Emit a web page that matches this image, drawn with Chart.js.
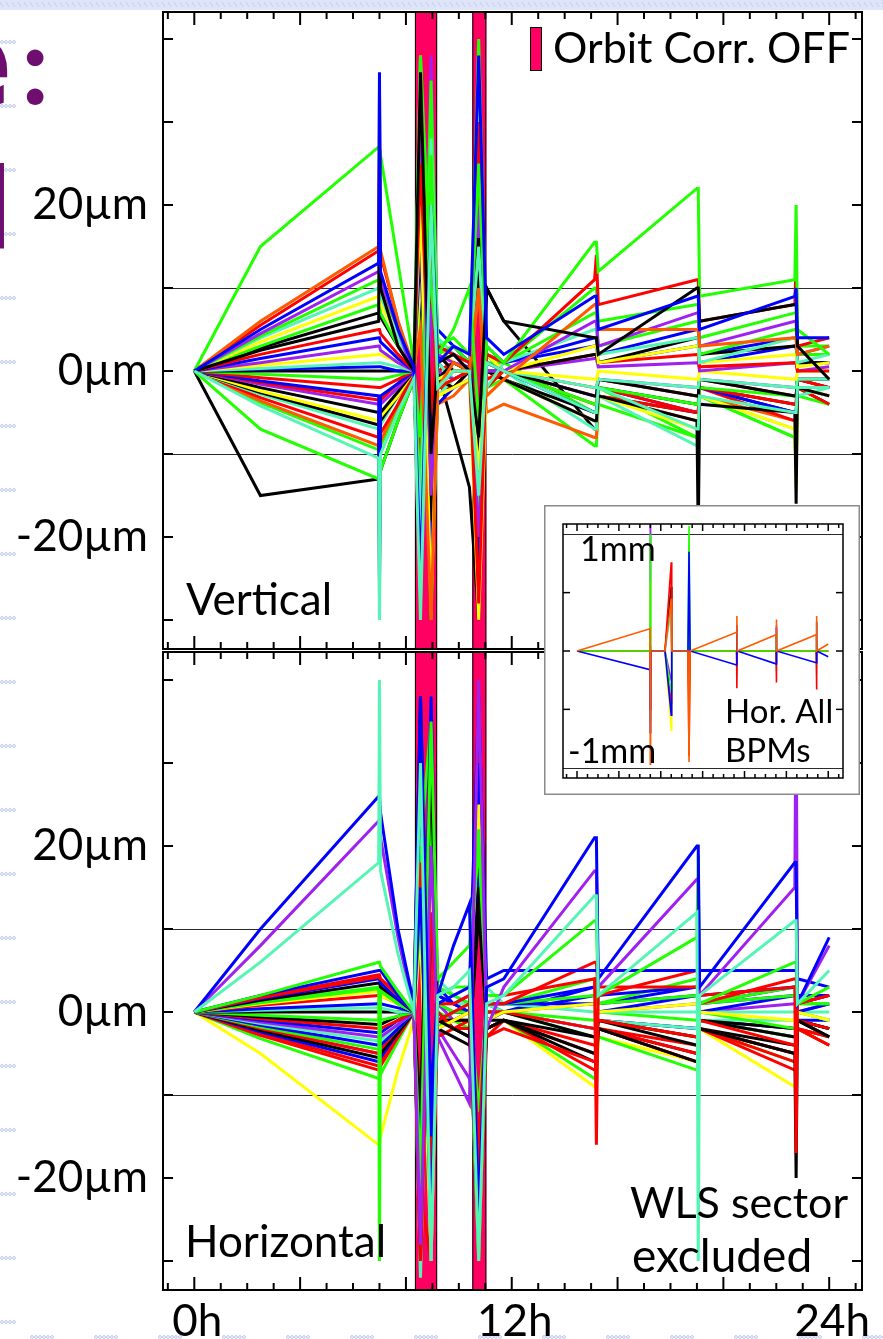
<!DOCTYPE html>
<html>
<head>
<meta charset="utf-8">
<title>Orbit stability, 24h</title>
<script src="https://cdn.jsdelivr.net/npm/chart.js@4.4.1/dist/chart.umd.min.js"></script>
<style>
  html, body { margin: 0; padding: 0; background: #fff; }
  body { width: 883px; height: 1339px; position: relative; overflow: hidden; }
  canvas { position: absolute; }
  #slide { left: 0; top: 0; width: 883px; height: 1339px; }
  #vertChart { left: 0; top: 0; width: 883px; height: 662px; }
  #horChart { left: 0; top: 640px; width: 883px; height: 699px; }
  #insetChart { left: 544px; top: 505px; width: 316px; height: 290px; }
</style>
</head>
<body>
<canvas id="slide" width="883" height="1339"></canvas>
<canvas id="vertChart" width="883" height="662"></canvas>
<canvas id="horChart" width="883" height="699"></canvas>
<canvas id="insetChart" width="316" height="290"></canvas>
<script>
// ---- data (hours, micrometres) ----
const hourKeys = [0, 2.5, 6.97, 7.0, 7.04, 7.7, 8.3, 8.55, 8.95, 9.2, 9.8, 10.4, 10.75, 11.05, 11.7,
                  15.13, 15.2, 15.27, 19.0, 19.05, 19.1, 22.7, 22.75, 22.8, 24];
const hourTicks = [-1, 0, 1, 2, 3, 4, 5, 6, 7, 8, 9, 10, 11, 12, 13, 14, 15, 16, 17, 18, 19, 20, 21, 22, 23, 24, 25];
const hourLabelled = [0, 12, 24];
const umTicks = [-30, -20, -10, 0, 10, 20, 30, 40];
const umLabelled = [-20, 0, 20];
const umRefLines = [-10, 10];

// orbit correction switched off
const offStart = [8.34, 10.51];
const offEnd = [9.18, 11.04];

// Vertical BPM traces
const vGreenTop = [0, 15,   27, 27, 26, 13, 1,      38, 10, 2, 5, 10,      -6, 3, 1,    15.5, 15.5, 12,  22, 22, 9,    11, 20, 5,     2];
const vOrange1  = [0, 6,    15, 15, 14.5, 6, 0.5,   5, -30, -2, 1, 0,      10, -3, -1,  8, 8, 5,         5, 5, 3,      4, 4, 2,       3];
const vRed1     = [0, 5.5,  14.5, 25, 14, 6, 0,     25, -5, 3, 2, 1,       -28, 2, 1,   11, 14, 8,       11, 11, 6,    8, 13.5, 3,    4];
const vBlue1    = [0, 5,    13, 36, 12, 5, 0.5,     -25, 20, 1, 3, 2,      38, 4, 2,    9, 9, 5,         9, 9, 5,      9, 10, 4,      4];
const vPurple1  = [0, 4.5,  12, 12, 11, 5, -0.5,    30, -15, 2, 1, 0.5,    -20, 1, 0,   6, 6, 3,         7, 7, 3,      6, 6, 2,       3];
const vGreen4   = [0, 4.2,  11, 11, 10, 5, 0,       -8, 26, 2, 3, 1,       -18, 2, 1,   10, 10, 6,       8, 8, 4,      7, 7, 3,       3];
const vAqua1    = [0, 4,    10, 10, 9, 4, 0,        -20, 28, 4, 2, 1,      15, -2, 1,   5, 5, 2,         4, 4, 1,      4, 4, 1,       2];
const vYellow1  = [0, 3.5,  9, 9, 8, 4, 0,          20, -28, -1, 0, 0,     -12, 2, 0,   3, 3, 1,         3, 3, 1,      2, 2, 0.5,     1];
const vGreen2   = [0, 3,    8, 8, 7, 3, 1,          -15, 35, 3, 4, 2,      25, 1, 1,    7, 7, 3,         6, 6, 2,      5, 5, 2,       2];
const vBlack4   = [0, 2.8,  7, 7, 6.5, 3, 0,        24, -18, -1, 1, 0,     16, 1, 0,    2, 2, 1,         4, 4, 2,      3, 3, 1,       1];
const vBlack1   = [0, 2.5,  6, 34, 10, 3, 0,        36, -10, 1, 2, 0,      -8, 10, 6,   4, 4, 2,         10, 10, 6,    8, 8, 3,       -1];
const vRed2     = [0, 2,    5, 5, 4.5, 2, 0,        -10, 12, -2, -1, 0,    30, -1, 0,   2, 2, 1,         2, 2, 0.5,    1, 1, 0,       0];
const vBlue2    = [0, 1.5,  4, 4, 3.5, 1.5, 0,      15, -22, 5, 3, 1,      -25, 3, 1,   3, 3, 1,         3, 3, 1,      3, 3, 1,       1];
const vPurple2  = [0, 1,    3, 3, 2.5, 1, 0,        -28, 8, 0, -1, 0,      20, 0, 0,    1.5, 1.5, 0.5,   1, 1, 0,      1, 1, 0,       0.5];
const vYellow2  = [0, 0.7,  2, 2, 2, 1, 0,          10, 22, -3, -2, -1,    -30, -1, 0,  -1, -1, 0,       -1, -1, 0,    -1, -1, 0,     0];
const vAqua2    = [0, 0.3,  1, 1, 1, 0.5, 0,        38, -25, 1, -1, 0,     35, 1, 0,    -2, -2, -1,      -2, -2, -1,   -2, -2, -1,    -1];
const vBlue4    = [0, 0.2,  0.5, 0.5, 0.5, 0, 0,    -24, 12, 3, 2, 1,      -12, 2, 1,   4, 4, 2,         5, 5, 2,      4, 4, 2,       2];
const vBlack2   = [0, 0,    0, 0, 0, 0, 0,          -12, 30, 2, 0, 0,      12, 0, 0,    -3, -3, -1,      -3, -3, -1,   -3, -3, -1,    -1];
const vGreen3   = [0, -0.4, -1, -1, -1, -0.5, 0,    18, -30, -2, -1, 0,    -15, 0, 0,   -4, -4, -2,      -4, -4, -2,   -3, -3, -1,    -1];
const vRed3     = [0, -0.8, -2, -2, -2, -1, 0,      -30, 16, 0, 1, 0,      25, -2, 0,   -4, -4, -2,      -5, -5, -2,   -4, -4, -1,    -2];
const vBlue3    = [0, -1.2, -3, -27, -3, -1.5, 0,   25, -8, -4, -2, -1,    -20, 2, 0,   -5, -5, -2,      -5, -5, -2,   -5, -5, -2,    -2];
const vRed5     = [0, -1.4, -3.5, -3.5, -3.5, -1.5, 0, 16, -24, -2, 0, 0,  14, -1, 0,   -2, -2, -1,      -3, -3, -1,   -3, -3, -1,    -2];
const vPurple3  = [0, -1.6, -4, -4, -4, -2, 0,      -22, 38, 2, 0, 0,      18, -1, 0,   -3, -3, -1,      -2, -2, -1,   -2, -2, -1,    -1];
const vBlack3   = [0, -2,   -5, -25, -5, -2.5, 0,   12, -30, -1, -2, 0,    -10, 0, -1,  -6, -6, -3,      -6, -20, -4,  -5, -16, -2,   -3];
const vYellow3  = [0, -2.4, -6, -6, -5.5, -3, 0,    -18, 28, 3, 1, 0,      22, -3, -1,  -6, -6, -3,      -7, -7, -3,   -7, -14, -2,   -3];
const vBlack5   = [0, -2.6, -6.5, -6.5, -6, -3, 0,  -16, 24, 1, -1, 0,     -22, 0, -1,  -5, -5, -2,      -4, -4, -2,   -4, -4, -1,    -2];
const vAqua3    = [0, -2.8, -7, -7, -6.5, -3, 0,    30, -18, -3, -1, 0,    -28, 2, 0,   -7, -7, -3,      -9, -9, -3,   -7, -7, -3,    -2];
const vRed4     = [0, -3.2, -8, -8, -7.5, -4, -0.5, -26, 10, -2, -2, 0,    30, 0, -1,   -6, -6, -3,      -5, -5, -2,   -6, -6, -2,    -4];
const vOrange2  = [0, -3.6, -9, -9, -8.5, -4, 0,    14, -25, -4, -3, -1,   10, -5, -4,  -8, -8, -3,      -6, -6, -3,   -6, -6, -2,    -3];
const vGreen5   = [0, -3.8, -9.5, -9.5, -9, -4.5, -0.5, 8, -28, -3, -2, 0, 26, -2, -1,  -9, -9, -4,      -8, -8, -3,   -8, -8, -3,    -4];
const vAqua4    = [0, -4.2, -10.5, -30, -10, -5, -1, -30, 20, -2, 0, 0,    -15, 1, 0,   -5, -5, -2,      -7, -7, -3,   -5, -5, -2,    -2];
const vGreenLow = [0, -7,   -13, -13, -12, -6, -1,  22, -20, 0, -1, 0,     40, 2, 1,    -5, -5, -2,      -8, -8, -3,   -8, -12, -2,   -3];
const vBlackLow = [0, -15,  -13, -13, -12, -6, -1,  -20, 15, 0, -7, -14,   -30, 10, 6,  -7, -7, -3,      -5, -5, -2,   -5, -5, -2,    -4];

// Horizontal BPM traces
const hBlueTop   = [0, 10,   26, 26, 24, 10, 1,      38, -15, 2, 8, 13,     -25, 3, 4,   21, 21, 4,     20, 20, 3,    18, 18, 1,    9];
const hPurpleTop = [0, 8,    23, 23, 21, 9, 0,       -28, 20, -3, -7, -11,  40, -2, 3,   17, 17, 3,     16, 16, 2,    15, 40, 1,    8];
const hAquaTop   = [0, 6,    18, 40, 17, 7, 0,       30, -30, 2, 3, 5,      -30, 1, 2,   14, 14, 2,     12, -30, 2,   11, 11, 1,    5];
const hGreen1    = [0, 2,    6, 6, 5.5, 2.5, 0,      -20, 35, 4, 6, 8,      20, 2, 2,    11, 11, 2,     9, 19, 1,     6, 6, 1,      3];
const hBlue2     = [0, 2,    5, 5, 5, 2, 0,          15, -25, 1, 2, 3,      38, 4, 5,    5, 5, 5,       5, 5, 5,      5, 5, 4,      3];
const hRed1      = [0, 1.8,  4.5, 4.5, 4, 2, 0,      -30, 12, -1, 0, 1,     -20, 2, 2,   4, -16, 3,     3, 3, 2,      3, -17, 1,    2];
const hRed6      = [0, 1.7,  4.2, 4.2, 4, 2, 0,      18, -22, 1, 1, 2,      -16, 1, 1,   6, 6, 2,       5, 5, 1,      4, 4, 1,      2];
const hBlue3     = [0, 1.6,  4, 4, 3.5, 1.5, 0,      28, -10, 2, 1, 2,      -28, 1, 1,   3, 3, 2,       3, 3, 2,      3, 3, 2,      2];
const hBlack1    = [0, 1.4,  3.5, 3.5, 3, 1.5, 0,    -12, 30, -1, -2, -3,   15, -2, -1,  -5, -5, -2,    -6, -6, -2,   -5, -20, -1,  -3];
const hGreen2    = [0, 1.2,  3, -30, 3, 1, 0,        20, -28, 3, 2, 1,      -12, 1, 1,   2, 2, 1,       2, 2, 1,      2, 2, 1,      1];
const hGreen6    = [0, 1.1,  2.8, 2.8, 2.5, 1, 0,    -26, 24, 2, 3, 3,      22, 1, 1,    4, 4, 1,       4, 4, 1,      3, 3, 1,      1];
const hYellow1   = [0, 1,    2.5, 2.5, 2, 1, 0,      -25, 15, -2, -1, 0,    25, -1, 0,   1, 1, 0,       1, 1, 0,      -1, -1, 0,    -1];
const hRed2      = [0, 0.8,  2, 2, 2, 1, 0,          35, -20, 0, -2, -2,    -25, 0, 0,   -2, -2, -1,    -3, -3, -1,   -4, -4, -1,   -2];
const hBlue4     = [0, 0.4,  1, 1, 1, 0.5, 0,        -18, 38, 2, 1, 0,      30, 1, 1,    1, 1, 0,       2, 2, 0,      2, 2, 0,      1];
const hAqua2     = [0, 0.2,  0.5, 0.5, 0.5, 0, 0,    25, -30, 4, 2, 1,      -20, 3, 1,   0, 0, 0,       0, 0, 0,      0, 0, 0,      0];
const hBlack2    = [0, 0,    0, 0, 0, 0, 0,          -30, 20, -2, -3, -4,   12, -1, -1,  -3, -3, -1,    -4, -4, -1,   -3, -3, -1,   -2];
const hGreen3    = [0, -0.4, -1, -1, -1, -0.5, 0,    12, -18, 1, 0, 0,      -30, 0, 0,   -1, -1, 0,     -1, -1, 0,    -2, -2, 0,    -1];
const hBlack4    = [0, -0.6, -1.5, -1.5, -1.5, -0.5, 0, 26, -12, -1, -1, -1, -24, -1, 0, -3, -3, -1,    -3, -3, -1,   -2, -2, -1,   -2];
const hRed3      = [0, -0.8, -2, -2, -2, -1, 0,      -10, 28, -3, -2, -1,   35, -2, -1,  -4, -4, -2,    -5, -5, -2,   -5, -5, -2,   -3];
const hBlue7     = [0, -1,   -2.5, -2.5, -2.5, -1, 0, -14, 32, 1, 0, 0,     16, 0, 0,    3, 3, 1,       3, 3, 1,      3, 3, 1,      2];
const hPurple2   = [0, -1.2, -3, -3, -3, -1.5, 0,    30, -25, 1, -1, 0,     -18, 0, 0,   1, 1, 0,       1, 1, 0,      1, 1, 0,      1];
const hAqua3     = [0, -1.4, -3.5, -3.5, -3.5, -1.5, 0, -32, 18, 1, 1, 1,   24, 1, 0,    -2, -2, -1,    -2, -2, -1,   -1, -1, 0,    -1];
const hBlue5     = [0, -1.6, -4, -4, -4, -2, 0,      -25, 10, 3, 1, 0,      22, 1, 0,    2, 2, 1,       2, 2, 1,      2, 2, 1,      2];
const hGreen4    = [0, -1.8, -4.5, -4.5, -4, -2, 0,  20, 35, -2, 0, 1,      -22, 1, 0,   -3, -3, -1,    -3, -3, -1,   -3, -3, -1,   -2];
const hRed4      = [0, -2,   -5, -5, -4.5, -2, 0,    -22, -30, -1, -1, -1,  28, -3, -2,  -6, -6, -2,    -6, -6, -2,   -6, -6, -2,   -4];
const hBlack3    = [0, -2.2, -5.5, -5.5, -5, -2.5, 0, 38, -15, 0, -2, -3,   -25, -2, -1, -6, -6, -2,    -5, -5, -2,   -4, -4, -1,   -3];
const hBlue6     = [0, -2.4, -6, -6, -5.5, -2.5, 0,  -12, 25, -1, 0, 0,     18, -1, 0,   -2, -2, -1,    -2, -2, -1,   -2, -2, -1,   -1];
const hRed7      = [0, -2.6, -6.5, -6.5, -6, -3, 0,  20, -26, -1, -2, -2,   -20, -2, -1, -7, -7, -2,    -6, -6, -2,   -7, -7, -2,   -4];
const hRed5      = [0, -2.8, -7, -7, -6.5, -3, 0,    15, -22, -2, -1, 0,    -30, -3, -1, -5, -5, -2,    -4, -4, -2,   -5, -5, -2,   -3];
const hGreen5    = [0, -3.2, -8, -8, -7.5, -3.5, 0,  -28, 28, 0, -1, -2,    20, -2, -1,  -8, -8, -3,    -7, -7, -2,   -6, -6, -2,   -3];
const hPurple3   = [0, -2,   -5, -5, -5, -2, 0,      22, -12, -2, -5, -8,   -15, -1, 0,  -2, -2, -1,    -2, -2, -1,   -3, -3, -1,   -2];
const hYellowLow = [0, -5,   -16, -16, -15, -7, -1,  10, -30, 1, 0, 0,      15, -2, -1,  -9, -9, -3,    -6, -6, -2,   -9, -9, -2,   -4];

// inset: all horizontal BPMs, millimetres
const insetHours = [0, 6.97, 7.0, 7.03, 8.4, 9.0, 9.05, 10.6, 10.7, 10.8,
                    15.24, 15.27, 15.3, 19.01, 19.04, 19.07, 22.85, 22.88, 22.91, 24];
const mmTicks = [-0.5, 0, 0.5];
const mmRefLines = [-1, 1];
const iOrange = [0,  0.19, -0.97, 0,   0, 0.45, 0,    0, -0.95, 0,   0.16, 0.3, 0,     0.14, 0.27, 0,   0.14, 0.3, 0,    0.06];
const iBlue   = [0, -0.16, -0.7, 0,    0, -0.55, 0,   0, 0.85, 0,    -0.12, 0.22, 0,   -0.11, 0.2, 0,   -0.1, 0.25, 0,   -0.05];
const iGreen  = [0,  0, 1.0, 0,        0, -0.35, 0,   0, 1.07, 0,    0, 0.12, 0,       0, 0.15, 0,      0, 0.1, 0,       0];
const iRed    = [0,  0, -0.5, 0,       0, 0.76, 0,    0, -0.9, 0,    0, -0.32, 0,      0, -0.27, 0,     0, -0.33, 0,     0];
const iYellow = [0,  0, 0.6, 0,        0, -0.68, 0,   0, -0.6, 0,    0, 0.2, 0,        0, 0.18, 0,      0, 0.22, 0,      0];
const iAqua   = [0,  0, -0.6, 0,       0, 0.35, 0,    0, 0.4, 0,     0, -0.2, 0,       0, -0.17, 0,     0, -0.2, 0,      0];
const iPurple = [0,  0, 1.1, 0,        0, -0.25, 0,   0, -0.3, 0,    0, 0.06, 0,       0, 0.22, 0,      0, 0.05, 0,      0];
const iBlack  = [0,  0, 0.05, 0,       0, 0.55, 0,    0, -0.45, 0,   0, 0, 0,          0, 0, 0,         0, 0, 0,         0];
const iRed2   = [0,  0, -0.2, 0,       0, -0.45, 0,   0, 0.3, 0,     0, -0.05, 0,      0, -0.1, 0,      0, -0.1, 0,      0];

// ---- styles ----
const C = { black: '#000000', red: '#ff0000', green: '#22ff00', blue: '#0000ff', yellow: '#ffff00',
            purple: '#a020f0', aqua: '#55f5b5', orange: '#ff5a00' };

const vertTraces = [vAqua4, vBlue1, vBlack1, vGreenTop, vOrange1, vRed1, vPurple1, vGreen4, vAqua1, vYellow1,
                    vGreen2, vBlack4, vRed2, vBlue2, vPurple2, vYellow2, vAqua2, vBlue4, vBlack2, vGreen3,
                    vRed3, vBlue3, vRed5, vPurple3, vBlack3, vYellow3, vBlack5, vAqua3, vRed4, vOrange2,
                    vGreen5, vGreenLow, vBlackLow];
const vertColors = [C.aqua, C.blue, C.black, C.green, C.orange, C.red, C.purple, C.green, C.aqua, C.yellow,
                    C.green, C.black, C.red, C.blue, C.purple, C.yellow, C.aqua, C.blue, C.black, C.green,
                    C.red, C.blue, C.red, C.purple, C.black, C.yellow, C.black, C.aqua, C.red, C.orange,
                    C.green, C.green, C.black];

const horTraces = [hAquaTop, hBlueTop, hPurpleTop, hGreen1, hBlue2, hRed1, hRed6, hBlue3, hBlack1, hGreen2,
                   hGreen6, hYellow1, hRed2, hBlue4, hAqua2, hBlack2, hGreen3, hBlack4, hRed3, hBlue7,
                   hPurple2, hAqua3, hBlue5, hGreen4, hRed4, hBlack3, hBlue6, hRed7, hRed5, hGreen5,
                   hPurple3, hYellowLow];
const horColors = [C.aqua, C.blue, C.purple, C.green, C.blue, C.red, C.red, C.blue, C.black, C.green,
                   C.green, C.yellow, C.red, C.blue, C.aqua, C.black, C.green, C.black, C.red, C.blue,
                   C.purple, C.aqua, C.blue, C.green, C.red, C.black, C.blue, C.red, C.red, C.green,
                   C.purple, C.yellow];

const insetTraces = [iOrange, iBlue, iGreen, iRed, iYellow, iAqua, iPurple, iBlack, iRed2];
const insetColors = [C.orange, C.blue, C.green, C.red, C.yellow, C.aqua, C.purple, C.black, C.red];

Chart.defaults.font.family = 'Lato';
Chart.defaults.color = '#000';

// ---- slide background (decoration of the original slide) ----
(function drawSlide() {
    const ctx = document.getElementById('slide').getContext('2d');
    ctx.fillStyle = '#fff';
    ctx.fillRect(0, 0, 883, 1339);
    ctx.fillStyle = '#dfe5f9';
    ctx.fillRect(0, 0, 883, 10);
    ctx.strokeStyle = '#c4cef2';
    ctx.lineWidth = 1;
    for (let x = 0; x < 883; x += 6) {
        ctx.beginPath(); ctx.moveTo(x, 2); ctx.lineTo(x + 3, 7); ctx.stroke();
    }
    ctx.strokeStyle = '#bcc7f0';
    for (let y = 42; y < 1339; y += 64) {
        for (let x = 2; x < 15; x += 4) { ctx.beginPath(); ctx.arc(x, y, 1.4, 0, Math.PI * 2); ctx.stroke(); }
    }
    for (let x = 32; x < 883; x += 64) {
        for (let dx = 0; dx < 22; dx += 4) { ctx.beginPath(); ctx.arc(x + dx, 1337, 1.4, 0, Math.PI * 2); ctx.stroke(); }
    }
    // cropped slide title: place glyph ink by its measured bounds
    ctx.fillStyle = '#6e0e6e';
    const inkRight = (txt, font, right, top) => {
        ctx.font = font;
        const m = ctx.measureText(txt);
        ctx.fillText(txt, right - m.actualBoundingBoxRight, top + m.actualBoundingBoxAscent);
    };
    const inkLeft = (txt, font, left, top) => {
        ctx.font = font;
        const m = ctx.measureText(txt);
        ctx.fillText(txt, left + m.actualBoundingBoxLeft, top + m.actualBoundingBoxAscent);
    };
    inkRight('e', 'bold 132px "DejaVu Sans"', 8, 33);
    inkLeft(':', 'bold 110px Lato', 26, 49);
    inkRight('l', 'bold 112px "DejaVu Sans"', 4, 163);
})();

// ---- plugins ----
const offBands = {
    id: 'offBands',
    beforeDatasetsDraw(chart) {
        const { ctx, chartArea: a, scales: { x } } = chart;
        ctx.save();
        ctx.fillStyle = '#ff0062';
        ctx.strokeStyle = '#000';
        ctx.lineWidth = 1;
        offStart.forEach((h, i) => {
            const x0 = x.getPixelForValue(h);
            const x1 = x.getPixelForValue(offEnd[i]);
            ctx.fillRect(x0, a.top, x1 - x0, a.bottom - a.top);
            ctx.strokeRect(x0 + 0.5, a.top + 0.5, x1 - x0 - 1, a.bottom - a.top - 1);
        });
        ctx.restore();
    }
};

const panelFrame = {
    id: 'panelFrame',
    beforeDatasetsDraw(chart, args, o) {
        const { ctx, chartArea: a, scales: { y } } = chart;
        ctx.save();
        ctx.strokeStyle = o.refColor;
        ctx.lineWidth = 1;
        o.refLines.forEach(v => {
            const py = Math.round(y.getPixelForValue(v)) + 0.5;
            ctx.beginPath(); ctx.moveTo(a.left, py); ctx.lineTo(a.right, py); ctx.stroke();
        });
        ctx.restore();
    },
    afterDatasetsDraw(chart, args, o) {
        const { ctx, chartArea: a, scales: { x, y } } = chart;
        ctx.save();
        ctx.strokeStyle = '#000';
        ctx.lineWidth = o.lineWidth;
        const seg = (x0, y0, x1, y1) => { ctx.beginPath(); ctx.moveTo(x0, y0); ctx.lineTo(x1, y1); ctx.stroke(); };
        o.xTicks.forEach(h => {
            const px = x.getPixelForValue(h);
            const len = h % o.xMajorEvery === 0 ? o.xMajorLen : o.xMinorLen;
            seg(px, a.top, px, a.top + len);
            seg(px, a.bottom, px, a.bottom - len);
        });
        o.yTicks.forEach(v => {
            const py = y.getPixelForValue(v);
            seg(a.left, py, a.left + o.yLen, py);
            seg(a.right, py, a.right - o.yLen, py);
        });
        ctx.strokeRect(a.left, a.top, a.right - a.left, a.bottom - a.top);
        ctx.restore();
    }
};

const notes = {
    id: 'notes',
    beforeDraw(chart, args, o) {
        if (!o.box) return;
        const ctx = chart.ctx;
        ctx.save();
        ctx.fillStyle = '#fff';
        ctx.fillRect(0, 0, chart.width, chart.height);
        ctx.strokeStyle = '#8a8a8a';
        ctx.lineWidth = 1.5;
        ctx.strokeRect(0.75, 0.75, chart.width - 1.5, chart.height - 1.5);
        ctx.restore();
    },
    afterDraw(chart, args, o) {
        const ctx = chart.ctx;
        ctx.save();
        (o.swatches || []).forEach(s => {
            ctx.fillStyle = '#ff0062';
            ctx.fillRect(s.x, s.y, s.w, s.h);
            ctx.strokeStyle = '#000';
            ctx.lineWidth = 1;
            ctx.strokeRect(s.x + 0.5, s.y + 0.5, s.w - 1, s.h - 1);
        });
        ctx.fillStyle = '#000';
        ctx.textBaseline = 'alphabetic';
        ctx.textAlign = 'left';
        o.items.forEach(n => {
            ctx.font = n.size + 'px Lato';
            ctx.fillText(n.text, n.x, n.y);
        });
        ctx.restore();
    }
};

// ---- helpers ----
function lineSets(keys, traces, colors, width) {
    return traces.map((vals, i) => ({
        data: vals.map((v, k) => ({ x: keys[k], y: v })),
        borderColor: colors[i],
        borderWidth: width,
        pointRadius: 0,
        tension: 0,
        fill: false
    }));
}

function umAxis(min, max) {
    return {
        type: 'linear', min, max,
        afterBuildTicks: s => { s.ticks = umTicks.map(v => ({ value: v })); },
        afterFit: s => { s.width = 163; s.paddingTop = 0; s.paddingBottom = 0; },
        grid: { display: false, drawTicks: false },
        border: { display: false },
        ticks: {
            padding: 15, color: '#000', font: { family: 'Lato', size: 44 },
            callback: v => umLabelled.includes(v) ? v + '\u00b5m' : ''
        }
    };
}

function frameOptions() {
    return {
        refLines: umRefLines, refColor: '#2a2a2a', lineWidth: 2,
        xTicks: hourTicks, xMajorEvery: 4, xMajorLen: 13, xMinorLen: 7,
        yTicks: umTicks, yLen: 10
    };
}

const common = { responsive: false, animation: false, events: [], devicePixelRatio: 1 };

// ---- vertical panel ----
new Chart(document.getElementById('vertChart'), {
    type: 'line',
    data: { datasets: lineSets(hourKeys, vertTraces, vertColors, 3) },
    options: {
        ...common,
        layout: { padding: { left: 0, right: 21, top: 12, bottom: 13 }, autoPadding: false },
        scales: {
            x: { type: 'linear', min: -1.183, max: 25.24, display: false },
            y: umAxis(-33.49, 43.25)
        },
        plugins: {
            legend: { display: false }, tooltip: { enabled: false },
            panelFrame: frameOptions(),
            notes: {
                swatches: [{ x: 530, y: 27, w: 12, h: 44 }],
                items: [
                    { text: 'Orbit Corr. OFF', x: 553, y: 63, size: 43 },
                    { text: 'Vertical', x: 186, y: 615, size: 44 }
                ]
            }
        }
    },
    plugins: [offBands, panelFrame, notes]
});

// ---- horizontal panel ----
new Chart(document.getElementById('horChart'), {
    type: 'line',
    data: { datasets: lineSets(hourKeys, horTraces, horColors, 3) },
    options: {
        ...common,
        layout: { padding: { left: 0, right: 21, top: 12, bottom: 0 }, autoPadding: false },
        scales: {
            x: {
                type: 'linear', min: -1.183, max: 25.24,
                afterBuildTicks: s => { s.ticks = hourTicks.map(v => ({ value: v })); },
                afterFit: s => { s.height = 49; s.paddingLeft = 0; s.paddingRight = 0; },
                grid: { display: false, drawTicks: false },
                border: { display: false },
                ticks: {
                    autoSkip: false, maxRotation: 0, padding: 5, labelOffset: 3,
                    color: '#000', font: { family: 'Lato', size: 44 },
                    callback: v => hourLabelled.includes(v) ? v + 'h' : ''
                }
            },
            y: umAxis(-33.49, 43.37)
        },
        plugins: {
            legend: { display: false }, tooltip: { enabled: false },
            panelFrame: frameOptions(),
            notes: {
                items: [
                    { text: 'Horizontal', x: 185, y: 617, size: 44 },
                    { text: 'WLS sector', x: 630, y: 578, size: 43 },
                    { text: 'excluded', x: 632, y: 632, size: 46 }
                ]
            }
        }
    },
    plugins: [offBands, panelFrame, notes]
});

// ---- inset: horizontal, all BPMs ----
new Chart(document.getElementById('insetChart'), {
    type: 'line',
    data: { datasets: lineSets(insetHours, insetTraces, insetColors, 1.6) },
    options: {
        ...common,
        layout: { padding: { left: 19, right: 17, top: 19, bottom: 17 }, autoPadding: false },
        scales: {
            x: { type: 'linear', min: -1.34, max: 25.41, display: false },
            y: { type: 'linear', min: -1.088, max: 1.088, display: false }
        },
        plugins: {
            legend: { display: false }, tooltip: { enabled: false },
            panelFrame: {
                refLines: mmRefLines, refColor: '#2a2a2a', lineWidth: 1.5,
                xTicks: hourTicks, xMajorEvery: 4, xMajorLen: 7, xMinorLen: 4,
                yTicks: mmTicks, yLen: 7
            },
            notes: {
                box: true,
                items: [
                    { text: '1mm', x: 36, y: 56, size: 34 },
                    { text: '-1mm', x: 24, y: 258, size: 34 },
                    { text: 'Hor. All', x: 181, y: 218, size: 33 },
                    { text: 'BPMs', x: 181, y: 257, size: 33 }
                ]
            }
        }
    },
    plugins: [panelFrame, notes]
});
</script>
</body>
</html>
